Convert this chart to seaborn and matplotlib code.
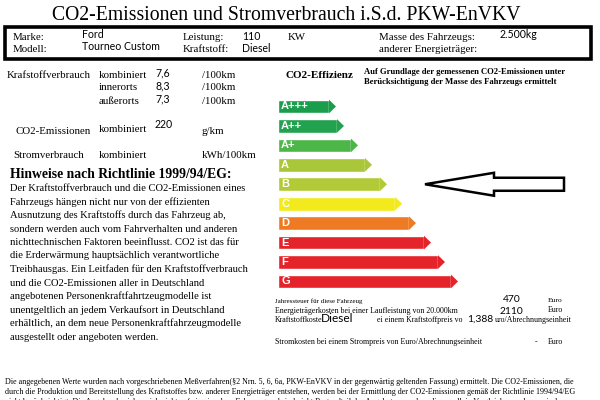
import matplotlib
matplotlib.use("Agg")
import matplotlib.pyplot as plt
from matplotlib.patches import Polygon, FancyArrow, Rectangle
import seaborn as sns
import pandas as pd

# ---------------- data ----------------
title = "CO2-Emissionen und Stromverbrauch i.S.d. PKW-EnVKV"
marke = "Ford"
modell = "Tourneo Custom"
leistung = "110"
leistung_unit = "KW"
kraftstoff = "Diesel"
masse = "2.500kg"

consumption_labels = ["kombiniert", "innerorts", "außerorts"]
consumption_values = ["7,6", "8,3", "7,3"]
co2_value = "220"

classes = ["A+++", "A++", "A+", "A", "B", "C", "D", "E", "F", "G"]
bar_lengths = [51, 59, 73, 87, 102, 117, 131, 146, 160, 173]
class_colors = ["#1b9e4b", "#22a24e", "#4cb748", "#aac73a", "#b3ca38",
                "#f2ea1c", "#ee7b24", "#e4232a", "#e4232a", "#e4232a"]
rating = "B"

steuer = "470"
energiekosten = "2110"
kraftstoffpreis = "1,388"
stromkosten = "-"

hinweis_lines = [
    "Der Kraftstoffverbrauch und die CO2-Emissionen eines",
    "Fahrzeugs hängen nicht nur von der effizienten",
    "Ausnutzung des Kraftstoffs durch das Fahrzeug ab,",
    "sondern werden auch vom Fahrverhalten und anderen",
    "nichttechnischen Faktoren beeinflusst. CO2 ist das für",
    "die Erderwärmung hauptsächlich verantwortliche",
    "Treibhausgas. Ein Leitfaden für den Kraftstoffverbrauch",
    "und die CO2-Emissionen aller in Deutschland",
    "angebotenen Personenkraftfahrtzeugmodelle ist",
    "unentgeltlich an jedem Verkaufsort in Deutschland",
    "erhältlich, an dem neue Personenkraftfahrzeugmodelle",
    "ausgestellt oder angeboten werden.",
]
footer_lines = [
    "Die angegebenen Werte wurden nach vorgeschriebenen Meßverfahren(§2 Nrn. 5, 6, 6a, PKW-EnVKV in der gegenwärtig geltenden Fassung) ermittelt. Die CO2-Emissionen, die",
    "durch die Produktion und Bereitstellung des Kraftstoffes bzw. anderer Energieträger entstehen, werden bei der Ermittlung der CO2-Emissionen gemäß der Richtlinie 1994/94/EG",
    "nicht berücksichtigt. Die Angaben beziehen sich nicht auf ein einzelnes Fahrzeug und sind nicht Bestandteil des Angebotes, sondern dienen allein Vergleichszwecken zwischen",
]

# ---------------- figure ----------------
sns.set_theme(style="white")
plt.rcParams["font.family"] = ["Liberation Serif", "DejaVu Serif"]
SERIF = "Liberation Serif"
SANS = "Lato"
BOLDSANS = "Liberation Sans"

W, H = 600, 400
fig = plt.figure(figsize=(6, 4), dpi=100)
fig.patch.set_facecolor("white")

ax = fig.add_axes([0, 0, 1, 1])
ax.set_xlim(0, W)
ax.set_ylim(H, 0)
ax.axis("off")

def t(x, y, s, size=7.6, family=SERIF, weight="normal", ha="left", color="black", **kw):
    ax.text(x, y, s, fontsize=size, family=family, weight=weight, ha=ha,
            va="center", color=color, **kw)

# title
t(286, 15, title, size=14.2, ha="center")

# header box
ax.add_patch(Rectangle((5, 27), 586, 32, fill=False, lw=2.6, ec="black"))
t(13, 38, "Marke:", 7.8)
t(13, 50, "Modell:", 7.8)
t(82, 34, marke, 7.6, SANS)
t(82, 47, modell, 7.6, SANS)
t(183, 38, "Leistung:", 7.8)
t(183, 50, "Kraftstoff:", 7.8)
t(242, 36, leistung, 7.6, SANS)
t(242, 49, kraftstoff, 7.6, SANS)
t(288, 37, leistung_unit, 7.8)
t(379, 38, "Masse des Fahrzeugs:", 7.8)
t(379, 50, "anderer Energieträger:", 7.8)
t(500, 35, masse, 7.6, SANS)

# consumption block
t(7, 75, "Krafstoffverbrauch", 7.8)
for i, (lab, val) in enumerate(zip(consumption_labels, consumption_values)):
    y = 75 + 13 * i
    t(99, y, lab, 7.8)
    t(155, y - 2, val, 7.6, SANS)
    t(202, y, "/100km", 7.8)
t(15, 131, "CO2-Emissionen", 7.8)
t(99, 129, "kombiniert", 7.8)
t(155, 124, co2_value, 7.6, SANS)
t(202, 131, "g/km", 7.8)
t(13, 156, "Stromverbrauch", 7.8)
t(99, 156, "kombiniert", 7.8)
t(202, 156, "kWh/100km", 7.8)

# Hinweise
t(10, 174, "Hinweise nach Richtlinie 1999/94/EG:", 9.8, weight="bold")
for i, line in enumerate(hinweis_lines):
    t(10, 188.5 + 13.5 * i, line, 7.55)

# efficiency header
t(285, 75, "CO2-Effizienz", 8.0, weight="bold")
t(364, 72, "Auf Grundlage der gemessenen CO2-Emissionen unter", 6.2, weight="bold")
t(364, 82, "Berücksichtigung der Masse des Fahrzeugs ermittelt", 6.2, weight="bold")

# efficiency bars (seaborn)
row_px = 19.44
top_px = 106.5 - 0.5 * row_px
bot_px = top_px + row_px * len(classes)
x0_px, x1_px = 278, 470
axb = fig.add_axes([x0_px / W, 1 - bot_px / H, (x1_px - x0_px) / W, (bot_px - top_px) / H])
df = pd.DataFrame({"klasse": classes, "laenge": bar_lengths})
sns.barplot(data=df, x="laenge", y="klasse", hue="klasse", palette=class_colors,
            orient="h", width=0.7, saturation=1, legend=False, ax=axb)
axb.set_xlim(0, x1_px - x0_px)
axb.set_ylim(len(classes) - 0.5, -0.5)
axb.axis("off")
tip = 7
for p, c, lab in zip(axb.patches, class_colors, classes):
    xe = p.get_x() + p.get_width()
    yb = p.get_y()
    hh = p.get_height()
    axb.add_patch(Polygon([(xe, yb), (xe + tip, yb + hh / 2), (xe, yb + hh)],
                          closed=True, fc=c, ec="none"))
    axb.text(3, yb + hh / 2, lab, color="white", fontsize=8.0, family=BOLDSANS,
             weight="bold", va="center", ha="left")

# rating arrow
ri = classes.index(rating)
tail_x, tip_x = 286, 147
axb.add_patch(FancyArrow(tail_x, ri, -(tail_x - tip_x), 0, width=0.67,
                         head_width=1.18, head_length=69, length_includes_head=True,
                         fc="white", ec="black", lw=1.8, clip_on=False))

# costs block
t(275, 301, "Jahressteuer für diese Fahrzeug", 5.0)
t(503, 299, steuer, 7.4, SANS)
t(548, 301, "Euro", 5.4)
t(275, 311, "Energieträgerkosten bei einer Laufleistung von 20.000km", 5.7)
t(500, 312, energiekosten, 7.4, SANS)
t(548, 310, "Euro", 5.7)
t(275, 320.5, "Kraftstoffkoste", 5.7)
t(321, 319, kraftstoff, 8.6, SANS)
t(377, 320.5, "ei einem Kraftstoffpreis vo", 5.7)
t(467, 319, kraftstoffpreis, 7.4, SANS)
t(495, 320.5, "uro/Abrechnungseinheit", 5.7)
t(275, 342, "Stromkosten bei einem Strompreis von Euro/Abrechnungseinheit", 5.7)
t(535, 342, stromkosten, 5.7)
t(548, 342, "Euro", 5.7)

# footer
for i, line in enumerate(footer_lines):
    t(5, 381.5 + 10.5 * i, line, 5.8)

fig.savefig("out.png", dpi=100, facecolor="white")
